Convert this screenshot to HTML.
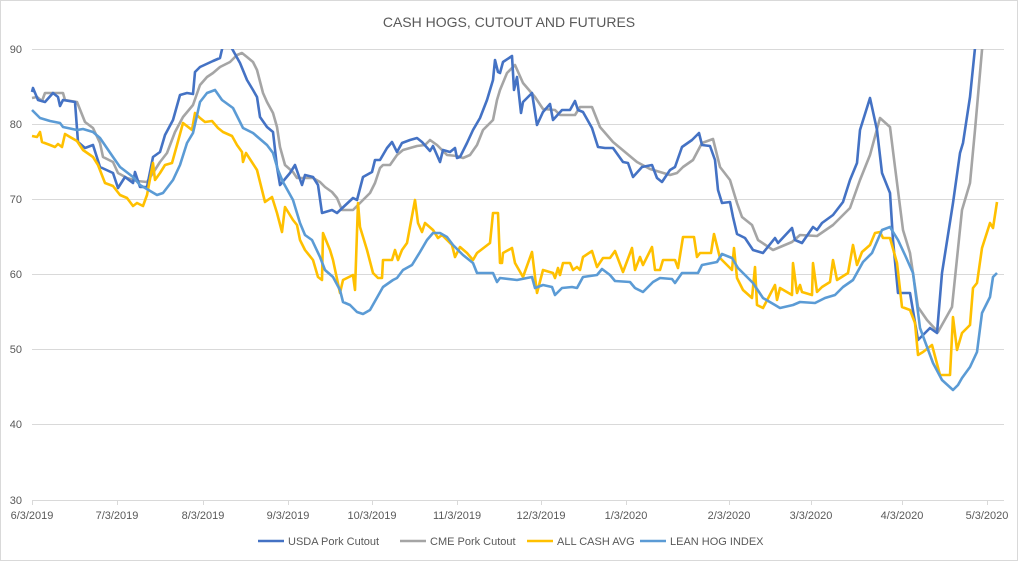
<!DOCTYPE html>
<html><head><meta charset="utf-8"><style>
html,body{margin:0;padding:0;background:#fff;}
svg{display:block;font-family:"Liberation Sans",sans-serif;}
</style></head><body>
<svg width="1018" height="561" viewBox="0 0 1018 561" xmlns="http://www.w3.org/2000/svg">
<rect x="0.5" y="0.5" width="1017" height="560" fill="#fff" stroke="#d9d9d9"/>
<text x="509" y="27" text-anchor="middle" font-size="14" fill="#595959">CASH HOGS, CUTOUT AND FUTURES</text>
<g stroke="#d9d9d9" stroke-width="1">
<line x1="32" y1="49.5" x2="1004" y2="49.5"/>
<line x1="32" y1="124.5" x2="1004" y2="124.5"/>
<line x1="32" y1="199.5" x2="1004" y2="199.5"/>
<line x1="32" y1="274.5" x2="1004" y2="274.5"/>
<line x1="32" y1="349.5" x2="1004" y2="349.5"/>
<line x1="32" y1="424.5" x2="1004" y2="424.5"/>
<line x1="32" y1="500.5" x2="1004" y2="500.5"/>
</g>
<g stroke="#d9d9d9" stroke-width="1">
<line x1="32.5" y1="500" x2="32.5" y2="505"/><line x1="117.5" y1="500" x2="117.5" y2="505"/><line x1="203.5" y1="500" x2="203.5" y2="505"/><line x1="288.5" y1="500" x2="288.5" y2="505"/><line x1="372.5" y1="500" x2="372.5" y2="505"/><line x1="457.5" y1="500" x2="457.5" y2="505"/><line x1="541.5" y1="500" x2="541.5" y2="505"/><line x1="626.5" y1="500" x2="626.5" y2="505"/><line x1="729.5" y1="500" x2="729.5" y2="505"/><line x1="811.5" y1="500" x2="811.5" y2="505"/><line x1="902.5" y1="500" x2="902.5" y2="505"/><line x1="987.5" y1="500" x2="987.5" y2="505"/>
</g>
<g font-size="11" fill="#595959" text-anchor="end">
<text x="22" y="53">90</text><text x="22" y="128">80</text><text x="22" y="203">70</text><text x="22" y="278">60</text><text x="22" y="353">50</text><text x="22" y="428">40</text><text x="22" y="504">30</text>
</g>
<g font-size="11" fill="#595959" text-anchor="middle">
<text x="32" y="519">6/3/2019</text><text x="117" y="519">7/3/2019</text><text x="203" y="519">8/3/2019</text><text x="288" y="519">9/3/2019</text><text x="372" y="519">10/3/2019</text><text x="457" y="519">11/3/2019</text><text x="541" y="519">12/3/2019</text><text x="626" y="519">1/3/2020</text><text x="729" y="519">2/3/2020</text><text x="811" y="519">3/3/2020</text><text x="902" y="519">4/3/2020</text><text x="987" y="519">5/3/2020</text>
</g>
<defs><clipPath id="c"><rect x="30" y="49" width="976" height="452"/></clipPath></defs>
<g clip-path="url(#c)" fill="none" stroke-width="2.6" stroke-linejoin="round">
<polyline stroke="#A5A5A5" points="32,98 37,97 42,101 45,93 63,93 65,100 77,102 85,122 93,128 100,143 103,157 113,162 118,173 127,178 137,181 147,182 153,173 160,162 167,153 175,132 183,117 193,105 200,85 207,77 213,73 220,67 230,62 237,55 242,53 247,57 253,62 257,70 263,93 267,102 273,113 277,127 280,147 285,165 293,172 297,178 313,178 320,182 325,187 332,192 337,198 342,210 353,210 363,200 370,193 375,183 380,168 383,165 390,165 397,155 403,150 417,146 425,145 430,140 437,145 447,155 457,156 463,158 470,155 477,145 483,130 490,123 493,120 497,100 500,90 507,73 515,65 523,83 535,97 543,109 555,110 560,115 575,115 580,107 592,107 600,127 613,142 625,152 637,162 650,169 670,175 677,173 683,167 693,160 702,143 713,139 720,167 730,180 737,203 742,217 752,225 758,240 773,250 792,242 800,235 817,236 833,225 850,208 860,180 870,155 880,118 890,127 895,167 903,230 910,253 918,307 927,320 938,332 952,307 962,210 970,183 975,130 982,50 984,40"/>
<polyline stroke="#4472C4" points="32,92 33,88 38,100 45,102 53,93 58,97 60,106 63,100 75,102 78,142 85,148 93,145 100,167 113,173 118,188 125,177 133,183 135,172 140,187 147,187 153,157 160,152 165,135 173,120 180,95 187,93 193,94 195,72 200,67 213,61 220,58 223,45 230,45 240,63 247,80 253,90 257,97 260,117 267,127 273,132 277,167 280,185 290,173 295,165 302,185 305,175 313,177 318,185 322,213 332,210 337,213 353,198 357,200 363,177 372,172 375,160 380,160 387,148 392,142 397,152 402,143 410,140 417,138 422,142 430,151 433,146 440,162 443,150 450,152 455,148 457,158 460,157 467,143 473,130 480,118 487,100 493,80 495,60 498,72 500,73 503,62 512,56 514,90 517,77 521,113 523,102 532,93 537,125 543,112 550,104 553,120 562,110 570,110 575,101 578,110 583,112 592,128 598,147 605,148 613,148 623,162 628,163 633,177 642,167 652,165 657,178 662,182 670,170 675,167 682,147 692,140 699,133 702,145 710,146 715,160 718,190 722,203 730,202 733,217 737,234 745,238 753,250 763,253 775,238 778,243 792,228 795,240 802,243 813,227 817,230 822,223 833,215 843,202 850,180 857,163 860,130 870,98 877,130 882,173 890,193 893,240 898,293 910,293 918,340 930,328 937,333 942,273 953,203 960,153 963,143 970,97 975,48 977,40"/>
<polyline stroke="#FFC000" points="32,136 37,137 40,132 42,142 50,145 55,147 58,144 62,147 65,134 70,137 77,141 83,150 93,157 98,165 105,183 113,186 120,195 127,198 133,206 137,203 143,206 147,195 153,163 155,180 160,173 165,165 172,163 177,145 183,123 192,130 195,113 200,118 205,122 212,121 218,128 223,132 232,136 237,145 242,152 243,162 246,153 257,170 265,202 272,197 277,213 282,232 285,207 293,220 297,225 300,240 305,250 313,260 318,277 322,280 323,233 330,250 333,260 340,293 343,280 353,275 355,290 358,203 360,227 367,250 373,273 378,278 382,278 383,260 392,260 395,250 398,260 402,250 407,243 415,200 418,223 422,232 425,223 433,230 438,238 442,235 447,240 452,245 455,257 460,247 467,253 473,260 477,253 490,243 493,213 498,213 500,263 502,263 503,253 512,248 515,263 523,277 532,252 537,293 543,270 553,273 555,278 558,268 560,275 563,263 570,263 573,270 577,267 580,270 583,257 592,251 597,267 603,258 610,258 615,251 623,272 632,248 635,270 640,257 643,265 652,247 655,270 660,270 663,260 675,260 678,268 683,237 694,237 697,257 700,253 711,253 714,234 720,258 732,270 734,248 737,278 743,290 752,298 755,267 757,305 763,308 775,285 777,300 780,288 792,295 793,263 797,293 800,285 802,292 812,295 813,263 817,292 822,287 830,282 833,260 837,280 848,273 853,245 857,265 862,252 870,245 875,233 880,232 883,238 890,238 897,263 902,307 910,310 915,323 918,355 923,352 932,345 940,375 950,375 953,317 957,350 962,333 970,325 973,288 977,283 982,248 990,223 993,228 997,202"/>
<polyline stroke="#5B9BD5" points="32,110 40,118 50,121 60,123 63,127 77,130 83,129 93,132 100,138 113,157 120,167 133,177 140,185 157,195 163,193 173,180 180,165 187,143 193,133 200,102 207,93 215,90 222,100 233,108 243,128 253,133 267,145 273,153 278,170 283,182 293,200 300,223 305,235 312,240 320,257 325,270 333,277 340,290 343,302 350,305 357,312 363,314 370,310 383,287 393,280 397,278 403,270 412,265 420,252 427,240 433,233 440,233 447,237 453,245 463,255 473,263 477,273 493,273 497,282 500,278 517,280 532,277 535,288 543,285 552,287 555,295 562,288 572,287 577,288 583,277 597,275 602,269 610,275 615,281 630,282 635,288 643,292 653,282 660,278 672,279 675,283 682,273 698,273 702,265 717,262 722,254 732,258 738,268 753,283 763,298 775,305 780,308 793,305 800,302 815,303 825,298 835,295 843,287 853,280 863,262 872,253 882,230 890,227 898,240 905,255 913,273 920,328 933,363 942,380 953,390 958,385 962,378 970,367 977,352 982,313 990,297 993,277 997,273"/>
</g>
<g font-size="11" fill="#595959">
<line x1="258" y1="541" x2="284" y2="541" stroke="#4472C4" stroke-width="2.6"/><text x="288" y="545">USDA Pork Cutout</text>
<line x1="400" y1="541" x2="426" y2="541" stroke="#A5A5A5" stroke-width="2.6"/><text x="430" y="545">CME Pork Cutout</text>
<line x1="527" y1="541" x2="553" y2="541" stroke="#FFC000" stroke-width="2.6"/><text x="557" y="545">ALL CASH AVG</text>
<line x1="640" y1="541" x2="666" y2="541" stroke="#5B9BD5" stroke-width="2.6"/><text x="670" y="545">LEAN HOG INDEX</text>
</g>
</svg>
</body></html>
